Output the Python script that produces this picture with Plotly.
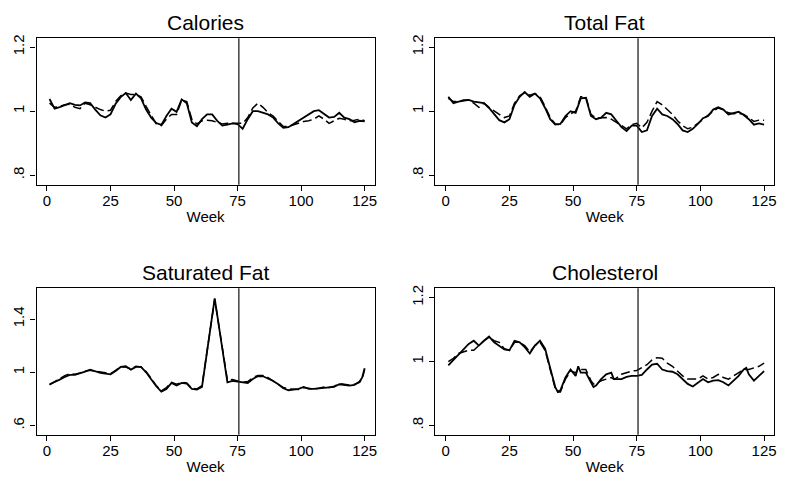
import plotly.graph_objects as go

# ---------------- data ----------------
WEEKS = [1, 3, 5, 7, 9, 11, 13, 15, 17, 19, 21, 23, 25, 27, 29, 31, 33, 35, 37, 39,
         41, 43, 45, 47, 49, 51, 53, 55, 57, 59, 61, 63, 65, 67, 69, 71, 73, 75, 77, 79,
         81, 83, 85, 87, 89, 91, 93, 95, 97, 99, 101, 103, 105, 107, 109, 111, 113, 115,
         117, 119, 121, 123, 125]

CAL_SOLID = [1.038, 1.008, 1.013, 1.020, 1.025, 1.020, 1.018, 1.027, 1.025, 1.005,
             0.987, 0.980, 0.990, 1.023, 1.044, 1.057, 1.035, 1.055, 1.040, 1.005,
             0.980, 0.963, 0.957, 0.985, 1.008, 0.998, 1.037, 1.025, 0.965, 0.953,
             0.975, 0.990, 0.990, 0.970, 0.955, 0.958, 0.962, 0.960, 0.945, 0.975,
             1.000, 1.000, 0.995, 0.990, 0.980, 0.962, 0.948, 0.950, 0.960, 0.970,
             0.980, 0.990, 1.000, 1.003, 0.990, 0.980, 0.982, 0.995, 0.980, 0.975,
             0.965, 0.970, 0.968]
CAL_DASH = [1.025, 1.012, 1.015, 1.020, 1.022, 1.012, 1.008, 1.025, 1.020, 1.012,
            1.005, 1.000, 1.003, 1.030, 1.048, 1.057, 1.052, 1.052, 1.045, 1.015,
            0.985, 0.960, 0.955, 0.975, 0.990, 0.990, 1.035, 1.030, 0.975, 0.960,
            0.970, 0.972, 0.970, 0.965, 0.960, 0.962, 0.962, 0.962, 0.962, 0.980,
            1.010, 1.025, 1.012, 0.995, 0.985, 0.968, 0.952, 0.952, 0.958, 0.962,
            0.968, 0.970, 0.975, 0.985, 0.975, 0.962, 0.970, 0.978, 0.975, 0.970,
            0.972, 0.975, 0.970]

FAT_SOLID = [1.045, 1.025, 1.030, 1.032, 1.035, 1.030, 1.028, 1.025, 1.010, 0.990,
             0.972, 0.965, 0.975, 1.020, 1.045, 1.060, 1.045, 1.055, 1.040, 1.010,
             0.975, 0.958, 0.960, 0.985, 1.000, 0.995, 1.040, 1.042, 0.985, 0.975,
             0.980, 0.995, 0.990, 0.970, 0.950, 0.938, 0.955, 0.955, 0.935, 0.940,
             0.985, 1.008, 0.990, 0.985, 0.975, 0.960, 0.940, 0.935, 0.945, 0.960,
             0.978, 0.985, 1.005, 1.012, 1.005, 0.990, 0.995, 0.998, 0.988, 0.975,
             0.958, 0.962, 0.958]
FAT_DASH = [1.040, 1.030, 1.030, 1.035, 1.035, 1.025, 1.012, 1.025, 1.012, 1.000,
            0.990, 0.980, 0.985, 1.025, 1.048, 1.058, 1.050, 1.055, 1.045, 1.015,
            0.980, 0.960, 0.958, 0.980, 0.992, 1.000, 1.045, 1.045, 0.990, 0.978,
            0.978, 0.980, 0.975, 0.965, 0.955, 0.945, 0.958, 0.962, 0.948, 0.965,
            1.000, 1.030, 1.020, 1.005, 0.990, 0.970, 0.955, 0.945, 0.950, 0.962,
            0.975, 0.985, 1.000, 1.010, 1.005, 0.995, 0.992, 0.993, 0.990, 0.980,
            0.968, 0.972, 0.972]

SAT_WEEKS = [1, 3, 5, 7, 9, 11, 13, 15, 17, 19, 21, 23, 25, 27, 29, 31, 33, 35, 37, 39,
             41, 43, 45, 47, 49, 51, 53, 55, 57, 59, 61, 66, 71, 73, 75, 77, 79,
             81, 83, 85, 87, 89, 91, 93, 95, 97, 99, 101, 103, 105, 107, 109, 111, 113,
             115, 117, 119, 121, 123, 124, 125]
SAT_SOLID = [0.910, 0.925, 0.945, 0.965, 0.980, 0.980, 0.990, 1.005, 1.020, 1.005,
             0.995, 0.990, 0.985, 1.010, 1.040, 1.045, 1.020, 1.040, 1.040, 1.000,
             0.950, 0.895, 0.855, 0.875, 0.920, 0.900, 0.920, 0.915, 0.875, 0.870,
             0.890, 1.555, 0.925, 0.935, 0.930, 0.925, 0.920,
             0.950, 0.970, 0.970, 0.955, 0.935, 0.910, 0.880, 0.865, 0.870, 0.875,
             0.890, 0.875, 0.875, 0.880, 0.885, 0.885, 0.890, 0.910, 0.905, 0.900,
             0.905, 0.930, 0.960, 1.030]
SAT_DASH = [0.905, 0.930, 0.950, 0.975, 0.990, 0.985, 0.995, 1.010, 1.015, 1.010,
            1.005, 1.000, 0.990, 1.015, 1.040, 1.040, 1.025, 1.045, 1.040, 1.005,
            0.955, 0.900, 0.860, 0.885, 0.925, 0.910, 0.925, 0.920, 0.880, 0.875,
            0.900, 1.550, 0.940, 0.945, 0.935, 0.925, 0.930,
            0.960, 0.975, 0.975, 0.960, 0.935, 0.915, 0.885, 0.875, 0.875, 0.870,
            0.885, 0.880, 0.875, 0.880, 0.890, 0.885, 0.895, 0.915, 0.910, 0.905,
            0.910, 0.925, 0.950, 1.020]

CHOL_WEEKS = [1, 3, 5, 7, 9, 11, 13, 15, 17, 19, 21, 23, 25, 27, 29, 31, 33, 35, 37, 39,
              41, 43, 44, 45, 47, 49, 51, 52, 53, 55, 57, 58, 59, 61, 63, 65, 66, 67, 69,
              71, 73, 75, 77, 79, 81, 83, 85, 87, 89, 91, 93, 95, 97, 99, 101, 103, 105,
              107, 109, 111, 113, 115, 117, 118, 119, 121, 123, 125]
CHOL_SOLID = [0.988, 1.005, 1.020, 1.040, 1.055, 1.065, 1.050, 1.065, 1.078, 1.060,
              1.050, 1.038, 1.035, 1.065, 1.060, 1.045, 1.025, 1.050, 1.065, 1.040,
              0.980, 0.920, 0.905, 0.910, 0.950, 0.975, 0.955, 0.985, 0.965, 0.965,
              0.935, 0.920, 0.925, 0.945, 0.960, 0.965, 0.945, 0.945, 0.945,
              0.952, 0.955, 0.955, 0.958, 0.975, 0.990, 0.993, 0.975, 0.970, 0.968,
              0.960, 0.945, 0.930, 0.922, 0.935, 0.945, 0.935, 0.940, 0.942, 0.935,
              0.925, 0.940, 0.955, 0.975, 0.980, 0.960, 0.940, 0.955, 0.970]
CHOL_DASH = [1.000, 1.010, 1.025, 1.030, 1.035, 1.035, 1.050, 1.065, 1.075, 1.065,
             1.060, 1.040, 1.035, 1.060, 1.060, 1.050, 1.030, 1.050, 1.060, 1.035,
             0.975, 0.915, 0.905, 0.905, 0.945, 0.970, 0.965, 0.975, 0.975, 0.975,
             0.940, 0.930, 0.930, 0.940, 0.945, 0.950, 0.945, 0.948, 0.960,
             0.965, 0.970, 0.972, 0.980, 0.990, 1.005, 1.012, 1.010, 0.995, 0.985,
             0.970, 0.955, 0.945, 0.945, 0.945, 0.955, 0.945, 0.950, 0.960, 0.950,
             0.945, 0.955, 0.965, 0.975, 0.975, 0.975, 0.980, 0.985, 0.995]

TITLES = ["Calories", "Total Fat", "Saturated Fat", "Cholesterol"]
X_TICKS = [0, 25, 50, 75, 100, 125]
Y_TICKS_A = [0.8, 1.0, 1.2]
Y_TICK_TEXT_A = [".8", "1", "1.2"]
Y_TICKS_B = [0.6, 1.0, 1.4]
Y_TICK_TEXT_B = [".6", "1", "1.4"]
BREAK_WEEK = 75.5
X_LABEL = "Week"

# ---------------- layout ----------------
W, H = 785, 483
FONT = "Liberation Sans, Arial, Helvetica, sans-serif"

panels = [
    dict(weeks=WEEKS, solid=CAL_SOLID, dash=CAL_DASH, ticks=Y_TICKS_A, text=Y_TICK_TEXT_A,
         yrange=[0.770, 1.228], xdom=[36.7, 376.0], ydom=[34.5, 182.3]),
    dict(weeks=WEEKS, solid=FAT_SOLID, dash=FAT_DASH, ticks=Y_TICKS_A, text=Y_TICK_TEXT_A,
         yrange=[0.770, 1.228], xdom=[437.0, 777.0], ydom=[34.5, 182.3]),
    dict(weeks=SAT_WEEKS, solid=SAT_SOLID, dash=SAT_DASH, ticks=Y_TICKS_B, text=Y_TICK_TEXT_B,
         yrange=[0.531, 1.631], xdom=[36.7, 376.0], ydom=[286.7, 434.3]),
    dict(weeks=CHOL_WEEKS, solid=CHOL_SOLID, dash=CHOL_DASH, ticks=Y_TICKS_A, text=Y_TICK_TEXT_A,
         yrange=[0.771, 1.229], xdom=[437.0, 777.0], ydom=[286.7, 434.3]),
]

fig = go.Figure()
layout = dict(width=W, height=H, margin=dict(l=0, r=0, t=0, b=0),
              paper_bgcolor="white", plot_bgcolor="white", showlegend=False,
              font=dict(family=FONT, color="black"))
annotations = []
shapes = []

for i, p in enumerate(panels):
    n = "" if i == 0 else str(i + 1)
    xa, ya = "x" + n, "y" + n
    fig.add_trace(go.Scatter(x=p["weeks"], y=p["dash"], mode="lines", xaxis=xa, yaxis=ya,
                             line=dict(color="black", width=1.5, dash="9px,4px")))
    fig.add_trace(go.Scatter(x=p["weeks"], y=p["solid"], mode="lines", xaxis=xa, yaxis=ya,
                             line=dict(color="black", width=1.8)))
    xd = [p["xdom"][0] / W, p["xdom"][1] / W]
    yd = [1 - p["ydom"][1] / H, 1 - p["ydom"][0] / H]
    layout["xaxis" + n] = dict(domain=xd, range=[-4.1, 128.9], anchor=ya,
                               tickvals=X_TICKS, ticks="outside", ticklen=5, tickwidth=1,
                               tickcolor="black", showline=True, linecolor="black",
                               linewidth=1.2, mirror=True, showgrid=False, zeroline=False,
                               ticklabelstandoff=-3,
                               tickfont=dict(size=15, family=FONT),
                               title=dict(text=X_LABEL, font=dict(size=15, family=FONT),
                                          standoff=3))
    layout["yaxis" + n] = dict(domain=yd, range=p["yrange"], anchor=xa,
                               tickvals=p["ticks"], ticktext=p["text"], tickangle=-90,
                               ticks="outside", ticklen=5, tickwidth=1, tickcolor="black",
                               showline=True, linecolor="black", linewidth=1.2, mirror=True,
                               showgrid=False, zeroline=False,
                               tickfont=dict(size=15, family=FONT))
    shapes.append(dict(type="line", xref=xa, yref=ya + " domain", x0=BREAK_WEEK,
                       x1=BREAK_WEEK, y0=0, y1=1, line=dict(color="#222222", width=1.3)))
    annotations.append(dict(text=TITLES[i], xref="paper", yref="paper",
                            x=(xd[0] + xd[1]) / 2, y=yd[1] + 15.5 / H,
                            xanchor="center", yanchor="middle", showarrow=False,
                            font=dict(size=21, family=FONT)))

layout["annotations"] = annotations
layout["shapes"] = shapes
fig.update_layout(**layout)
fig.write_html("out.html", config={"displayModeBar": False},
               post_script="document.body.style.margin='0';document.body.style.overflow='hidden';")
